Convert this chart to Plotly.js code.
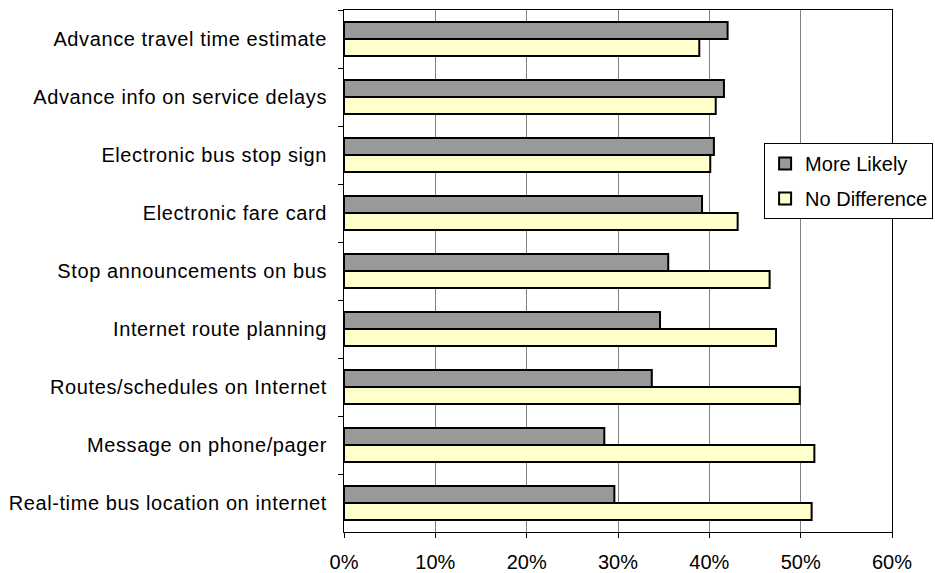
<!DOCTYPE html>
<html>
<head>
<meta charset="utf-8">
<script src="https://cdn.plot.ly/plotly-3.0.1.min.js"></script>
<style>
html,body{margin:0;padding:0;background:#fff;}
#chart{width:935px;height:573px;}
#chart g.ytick text{letter-spacing:0.6px;}
</style>
</head>
<body>
<div id="chart"></div>
<script>
const categories = [
  "Advance travel time estimate",
  "Advance info on service delays",
  "Electronic bus stop sign",
  "Electronic fare card",
  "Stop announcements on bus",
  "Internet route planning",
  "Routes/schedules on Internet",
  "Message on phone/pager",
  "Real-time bus location on internet"
];
const moreLikely   = [42.0, 41.6, 40.5, 39.2, 35.5, 34.6, 33.7, 28.5, 29.6];
const noDifference = [38.9, 40.7, 40.1, 43.1, 46.6, 47.3, 49.9, 51.5, 51.2];
const xTickVals = [0, 10, 20, 30, 40, 50, 60];
const xTickText = ["0%", "10%", "20%", "30%", "40%", "50%", "60%"];

const traces = [
  {type: "bar", orientation: "h", name: "More Likely", y: categories, x: moreLikely,
   legendgroup: "a",
   marker: {color: "#999999", line: {color: "#000000", width: 2}}},
  {type: "bar", orientation: "h", name: "No Difference", y: categories, x: noDifference,
   legendgroup: "b",
   marker: {color: "#FFFFCC", line: {color: "#000000", width: 2}}}
];

const layout = {
  width: 935, height: 573,
  margin: {l: 344, r: 43, t: 10, b: 41, pad: 0, autoexpand: false},
  paper_bgcolor: "#ffffff", plot_bgcolor: "#ffffff",
  font: {family: "Liberation Sans, Arial, sans-serif", size: 20, color: "#000000"},
  barmode: "group", bargap: 0.41, bargroupgap: 0,
  showlegend: true,
  legend: {x: 1.075, y: 0.745, xanchor: "right", yanchor: "top",
           bgcolor: "#ffffff", bordercolor: "#000000", borderwidth: 1,
           font: {size: 20}, traceorder: "grouped", tracegroupgap: 6,
           itemwidth: 30},
  xaxis: {range: [0, 60], tickvals: xTickVals, ticktext: xTickText, automargin: false,
          showgrid: true, gridcolor: "#808080", gridwidth: 1,
          showline: true, linecolor: "#000000", linewidth: 1, mirror: true,
          ticks: "outside", ticklen: 5, tickcolor: "#000000", zeroline: false,
          ticklabelstandoff: 7, fixedrange: true},
  yaxis: {type: "category", autorange: "reversed", tickson: "boundaries", automargin: false,
          ticks: "outside", ticklen: 5, tickcolor: "#000000",
          showline: true, linecolor: "#000000", linewidth: 1, mirror: true,
          showgrid: false, ticklabelstandoff: 12, fixedrange: true}
};

Plotly.newPlot("chart", traces, layout, {displayModeBar: false, staticPlot: true});
</script>
</body>
</html>
